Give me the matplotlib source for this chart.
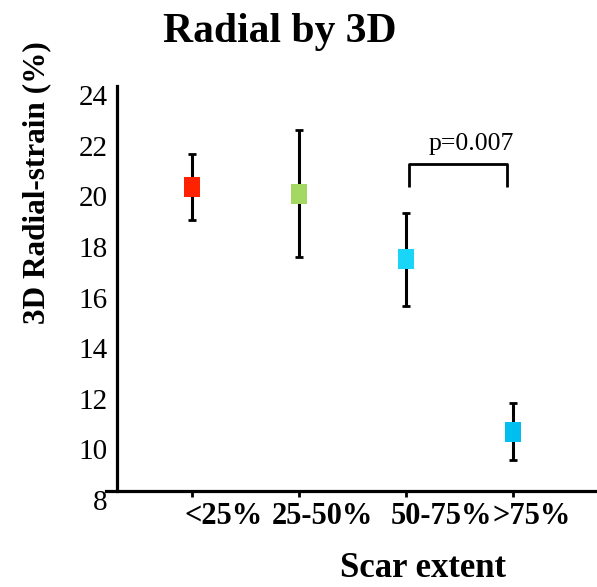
import matplotlib
matplotlib.use("Agg")
import matplotlib.pyplot as plt
import matplotlib.transforms as mtransforms
from matplotlib.path import Path

categories = ["<25%", "25-50%", "50-75%", ">75%"]
means = [20.0, 19.75, 17.15, 10.35]
errors = [1.3, 2.5, 1.85, 1.12]
colors = ["#FF2200", "#A3D963", "#19D6F8", "#00BEF0"]
yticks = [8, 10, 12, 14, 16, 18, 20, 22, 24]
p_label = "p=0.007"
bracket_x = [3.03, 3.95]
bracket_y = [20.0, 20.92]

plt.rcParams['font.family'] = ['Liberation Serif', 'DejaVu Serif']

W, H = 597, 587
fig = plt.figure(figsize=(W / 100, H / 100), dpi=100)
ax = fig.add_axes([106 / W, 1 - 491 / H, (W - 106) / W, (491 - 86) / H])

x = list(range(1, len(categories) + 1))

# rectangular marker, slightly taller than wide
rect = Path([(-0.42, -0.5), (0.42, -0.5), (0.42, 0.5), (-0.42, 0.5), (-0.42, -0.5)],
            [Path.MOVETO, Path.LINETO, Path.LINETO, Path.LINETO, Path.CLOSEPOLY])

for xi, m, e, c in zip(x, means, errors, colors):
    ax.errorbar(xi, m, yerr=e, fmt='none', ecolor='black', elinewidth=2.2,
                capsize=3, capthick=2, zorder=2)
    ax.plot(xi, m, marker=rect, markersize=13.7, color=c, markeredgewidth=0,
            linestyle='none', zorder=3)

# significance bracket
ax.plot([bracket_x[0], bracket_x[0], bracket_x[1], bracket_x[1]],
        [bracket_y[0], bracket_y[1], bracket_y[1], bracket_y[0]],
        color='black', lw=2, solid_capstyle='butt', zorder=2)
ax.text((bracket_x[0] + bracket_x[1]) / 2 + 0.12, 21.48, p_label, ha='center',
        va='baseline', fontsize=18.5)

for s in ['top', 'right']:
    ax.spines[s].set_visible(False)
ax.spines['left'].set_position(('data', 0.302))
ax.spines['left'].set_linewidth(2.3)
ax.spines['bottom'].set_linewidth(2.3)
ax.tick_params(axis='y', length=0, pad=6.5, labelsize=21)
ax.tick_params(axis='x', length=4, width=2, pad=4, direction='out', labelsize=22)

ax.set_xlim(0.199, 4.788)
ax.set_ylim(8, 24)
ax.set_yticks(yticks)
ax.set_yticklabels([str(t) for t in yticks], fontsize=21)
ax.set_xticks(x)
ax.set_xticklabels(categories, fontsize=22, fontweight='bold')

# y tick labels sit a little below their ticks in the reference
dy = mtransforms.ScaledTranslation(0, -9 / 100, fig.dpi_scale_trans)
for lab in ax.get_yticklabels():
    lab.set_transform(lab.get_transform() + dy)

# x tick labels are shifted right in the reference
x_offsets_px = [32, 24, 36, 19]
for lab, off in zip(ax.get_xticklabels(), x_offsets_px):
    lab.set_transform(lab.get_transform() + mtransforms.ScaledTranslation(off / 100, 0, fig.dpi_scale_trans))

fig.text(280 / W, 1 - 42 / H, "Radial by 3D", ha='center', va='baseline',
         fontsize=30, fontweight='bold')
fig.text(423 / W, 1 - 577 / H, "Scar extent", ha='center', va='baseline',
         fontsize=25, fontweight='bold')
fig.text(37 / W, 1 - 183 / H, "3D Radial-strain (%)", ha='center', va='center',
         rotation=90, fontsize=22.5, fontweight='bold')

fig.savefig("out.png", dpi=100)
